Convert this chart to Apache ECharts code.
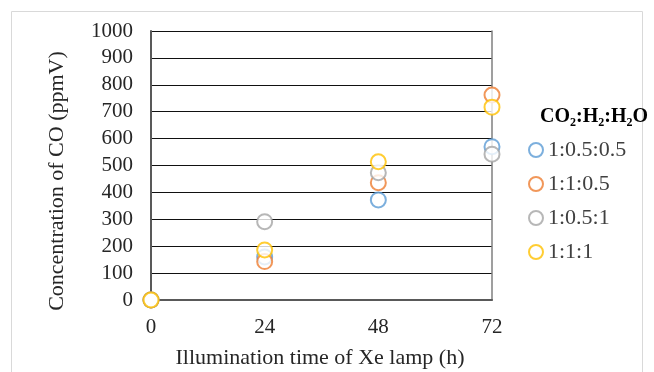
<!DOCTYPE html>
<html><head><meta charset="utf-8">
<script src="https://cdn.jsdelivr.net/npm/echarts@6/dist/echarts.min.js"></script>
<style>html,body{margin:0;padding:0;background:#fff}#c{width:654px;height:372px}</style>
</head><body><div id="c"></div>
<script>
const times = [0, 24, 48, 72];
const seriesNames = ['1:0.5:0.5', '1:1:0.5', '1:0.5:1', '1:1:1'];
const s1 = [0, 160, 372, 570];
const s2 = [0, 143, 436, 762];
const s3 = [0, 291, 473, 542];
const s4 = [0, 186, 514, 717];
const yTicks = [0, 1000, 100];
const xTicks = [0, 72, 24];
const colors = ['#5B9BD5', '#ED7D31', '#A5A5A5', '#FFC000'];
const allValues = [s1, s2, s3, s4];

const font = '"Liberation Serif", "Times New Roman", serif';
const chart = echarts.init(document.getElementById('c'));
chart.setOption({
  animation: false,
  color: colors,
  grid: {left: 151, top: 31, right: 162, bottom: 72},
  xAxis: {
    type: 'value', min: xTicks[0], max: xTicks[1], interval: xTicks[2],
    axisLine: {lineStyle: {color: '#595959', width: 2}},
    axisTick: {show: false},
    splitLine: {show: false},
    axisLabel: {color: '#262626', fontFamily: font, fontSize: 21, margin: 17, formatter: v => String(v)}
  },
  yAxis: [{
    type: 'value', min: yTicks[0], max: yTicks[1], interval: yTicks[2],
    axisLine: {show: true, lineStyle: {color: '#595959', width: 2}},
    axisTick: {show: false},
    splitLine: {lineStyle: {color: '#111', width: 1}},
    axisLabel: {color: '#262626', fontFamily: font, fontSize: 21, margin: 18, formatter: v => String(v)}
  }, {
    type: 'value', position: 'right', min: yTicks[0], max: yTicks[1], interval: yTicks[2],
    axisLine: {show: true, lineStyle: {color: '#7f7f7f', width: 1.5}},
    axisTick: {show: false}, axisLabel: {show: false}, splitLine: {show: false}
  }],
  legend: {
    orient: 'vertical', left: 523, top: 134, itemGap: 12,
    itemWidth: 14, itemHeight: 14,
    textStyle: {fontFamily: font, fontSize: 22, color: '#404040'},
    data: seriesNames
  },
  graphic: [
    {type: 'rect', shape: {x: 11.5, y: 11.5, width: 631, height: 380}, style: {fill: 'none', stroke: '#d9d9d9', lineWidth: 1}, silent: true, z: -1},
    {type: 'text', x: 57, y: 181, rotation: Math.PI / 2,
      style: {text: 'Concentration of CO (ppmV)', font: '22px ' + font, fill: '#262626', align: 'center', verticalAlign: 'middle'}},
    {type: 'text', x: 320, y: 358,
      style: {text: 'Illumination time of Xe lamp (h)', font: '22px ' + font, fill: '#262626', align: 'center', verticalAlign: 'middle'}},
    {type: 'text', x: 594, y: 117,
      style: {
        text: '{b|CO}{s|2}{b|:H}{s|2}{b|:H}{s|2}{b|O}',
        align: 'center', verticalAlign: 'middle',
        rich: {
          b: {fontFamily: font, fontSize: 20, fontWeight: 'bold', fill: '#000', lineHeight: 24, verticalAlign: 'middle'},
          s: {fontFamily: font, fontSize: 12, fontWeight: 'bold', fill: '#000', lineHeight: 24, verticalAlign: 'bottom', padding: [8, 0, 0, 0]}
        }
      }}
  ],
  series: seriesNames.map((n, i) => ({
    name: n, type: 'scatter', symbol: 'emptyCircle', symbolSize: 15,
    itemStyle: {color: colors[i], borderWidth: 2},
    data: times.map((t, j) => [t, allValues[i][j]]),
    z: 10 + (i === 3 ? 5 : i)
  }))
});
</script></body></html>
